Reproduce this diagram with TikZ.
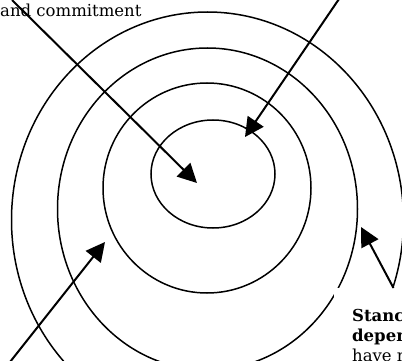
\documentclass[tikz,border=0pt]{standalone}
\usepackage{fontspec}
\setmainfont{DejaVu Serif}
\usepackage{tikz}
\usetikzlibrary{positioning,arrows.meta,calc}
\definecolor{ink}{HTML}{000000}
\tikzset{
  >={Triangle[length=19pt,width=19pt]},
  ring/.style={draw=ink, line width=1.5pt},
  txt/.style={font=\fontsize{16.5}{20}\selectfont, text=ink, inner sep=0pt},
  note/.style={txt, fill=white, align=left, anchor=north west, inner xsep=18pt, inner ysep=21pt},
  l/.style={->, line width=2pt, draw=ink},
}

\begin{document}
\begin{tikzpicture}[x=1pt,y=-1pt]
  \useasboundingbox (0,0) rectangle (402,361);
  \clip (0,0) rectangle (402,361);
  \draw[ring] (213,174) ellipse [x radius=62pt, y radius=54pt];
  \draw[ring] (207,188) ellipse [x radius=104pt, y radius=105pt];
  \draw[ring] (207.5,209) ellipse [x radius=150pt, y radius=161pt];
  \draw[ring] (207.5,220) ellipse [x radius=196pt, y radius=208pt];
  \node[txt,anchor=base west] (commit) at (0,17) {and commitment};
  \node[note] (stance) at (334,288) {\textbf{Stanc}\\\textbf{depen}\\have n};
  \coordinate (c1) at (12,0);
  \coordinate (c2) at (339,-1);
  \coordinate (c3) at (10,362);
  \coordinate (c4) at (393.5,288);
  \coordinate (core) at (197,183);
  \coordinate (ring1) at (245,137);
  \coordinate (ring2) at (105,242);
  \coordinate (ring3) at (361,227);
  \draw[l](c1)--(core); \draw[l](c2)--(ring1);
  \draw[l](c3)--(ring2); \draw[l](c4)--(ring3);
\end{tikzpicture}
\end{document}
